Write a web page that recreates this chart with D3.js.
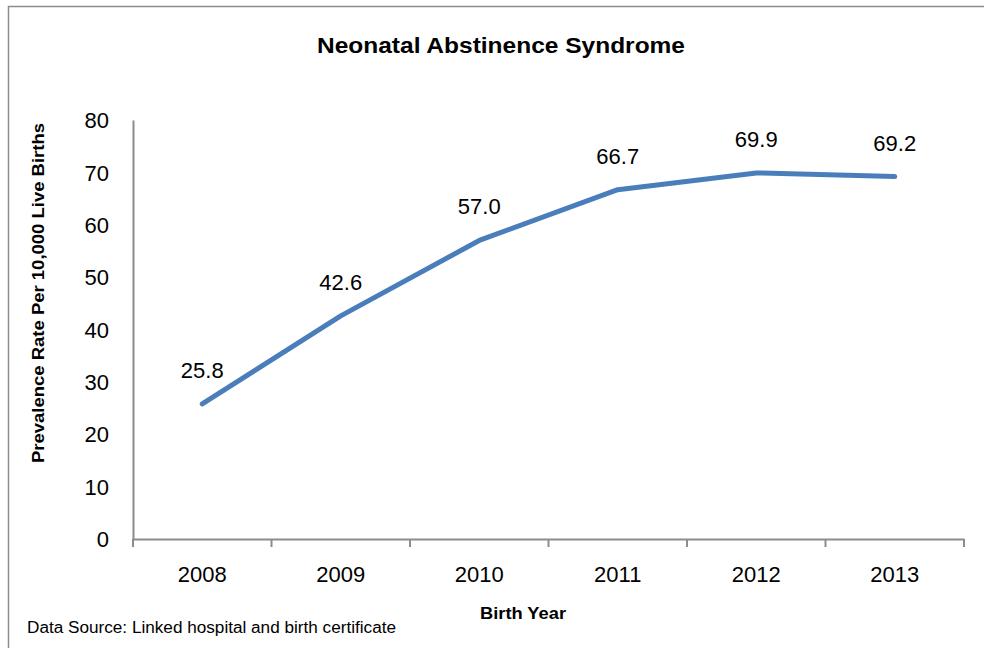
<!DOCTYPE html>
<html>
<head>
<meta charset="utf-8">
<script src="https://cdn.jsdelivr.net/npm/d3@7"></script>
<style>
  body { margin: 0; background: #fff; }
  text { font-family: "Liberation Sans", "DejaVu Sans", sans-serif; fill: #000; }
</style>
</head>
<body>
<div id="chart"></div>
<script>
// chart data
var years = ["2008", "2009", "2010", "2011", "2012", "2013"];
var rates = [25.8, 42.6, 57.0, 66.7, 69.9, 69.2];
var yTicks = [0, 10, 20, 30, 40, 50, 60, 70, 80];

var areaWidth = 984, areaHeight = 648;
var plotLeft = 133, plotRight = 964, plotTop = 120, plotBottom = 539;

var svg = d3.select("#chart").append("svg")
    .attr("width", areaWidth)
    .attr("height", areaHeight);

// outer frame
svg.append("rect")
    .attr("x", 8.5).attr("y", 6.5)
    .attr("width", 990).attr("height", 700)
    .style("fill", "none")
    .style("stroke", "#8c8c8c")
    .style("stroke-width", 1.5);

var xScale = d3.scaleBand().domain(years).range([plotLeft, plotRight]);
var yScale = d3.scaleLinear().domain([0, 80]).range([plotBottom, plotTop]);

// y axis: line only, labels on the left
var yAxis = svg.append("g")
    .attr("transform", "translate(" + plotLeft + ",0)")
    .call(d3.axisLeft(yScale).tickValues(yTicks).tickSize(0).tickPadding(24).tickFormat(d3.format("d")));
yAxis.select(".domain").style("stroke", "#8c8c8c").style("stroke-width", 2);
yAxis.selectAll("text").style("font-size", "22px").attr("dy", "0.35em");

// x axis with ticks on band boundaries
var xAxis = svg.append("g")
    .attr("transform", "translate(0," + plotBottom + ")")
    .call(d3.axisBottom(xScale).tickSize(0).tickPadding(27));
xAxis.select(".domain").style("stroke", "#8c8c8c").style("stroke-width", 2);
xAxis.selectAll("text").style("font-size", "22px");

var bounds = years.map(function(d) { return xScale(d); }).concat([plotRight]);
svg.append("g").selectAll("line")
    .data(bounds)
    .enter()
    .append("line")
    .attr("x1", function(d) { return d; })
    .attr("x2", function(d) { return d; })
    .attr("y1", plotBottom)
    .attr("y2", plotBottom + 8)
    .style("stroke", "#8c8c8c")
    .style("stroke-width", 2);

// data line
var line = d3.line()
    .x(function(d, i) { return xScale(years[i]) + xScale.bandwidth() / 2; })
    .y(function(d) { return yScale(d); });

svg.append("path")
    .datum(rates)
    .attr("d", line)
    .style("fill", "none")
    .style("stroke", "#4a7ebb")
    .style("stroke-width", 5)
    .style("stroke-linecap", "round")
    .style("stroke-linejoin", "round");

// value labels
svg.append("g").selectAll("text")
    .data(rates)
    .enter()
    .append("text")
    .text(function(d) { return d.toFixed(1); })
    .attr("x", function(d, i) { return xScale(years[i]) + xScale.bandwidth() / 2; })
    .attr("y", function(d) { return yScale(d) - 26; })
    .attr("text-anchor", "middle")
    .style("font-size", "22px");

// titles
svg.append("text")
    .text("Neonatal Abstinence Syndrome")
    .attr("x", 501).attr("y", 53)
    .attr("text-anchor", "middle")
    .attr("textLength", 368)
    .attr("lengthAdjust", "spacingAndGlyphs")
    .style("font-size", "22px")
    .style("font-weight", "bold");

svg.append("text")
    .text("Prevalence Rate Per 10,000 Live Births")
    .attr("transform", "translate(44,293) rotate(-90)")
    .attr("text-anchor", "middle")
    .attr("textLength", 340)
    .attr("lengthAdjust", "spacingAndGlyphs")
    .style("font-size", "17px")
    .style("font-weight", "bold");

svg.append("text")
    .text("Birth Year")
    .attr("x", 523).attr("y", 619)
    .attr("text-anchor", "middle")
    .attr("textLength", 86)
    .attr("lengthAdjust", "spacingAndGlyphs")
    .style("font-size", "17px")
    .style("font-weight", "bold");

svg.append("text")
    .text("Data Source: Linked hospital and birth certificate")
    .attr("x", 27).attr("y", 633)
    .attr("textLength", 369)
    .attr("lengthAdjust", "spacingAndGlyphs")
    .style("font-size", "16px");
</script>
</body>
</html>
